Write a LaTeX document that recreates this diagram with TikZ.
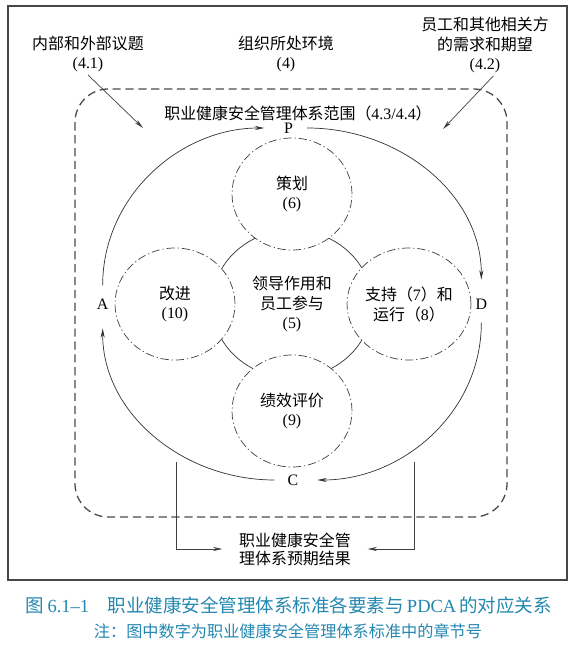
\documentclass[tikz,border=0pt]{standalone}
\usepackage{fontspec}
\setmainfont{Liberation Serif}
\newfontfamily\cjk{Noto Sans CJK SC}
\usepackage{tikz}
\usetikzlibrary{arrows.meta, shapes.geometric}
\definecolor{framegray}{RGB}{70,70,70}
\definecolor{scopegray}{RGB}{75,75,75}
\definecolor{capblue}{RGB}{35,135,175}

\begin{document}
\begin{tikzpicture}[font=\fontsize{13.6}{17}\selectfont,
  txt/.style={align=center, inner sep=2pt},
  clause/.style={ellipse, draw=black!75, line width=0.6pt, dash pattern=on 7pt off 2.5pt on 1pt off 2.5pt, fill=white, minimum width=3.6cm, minimum height=3.36cm, inner sep=0pt, align=center},
  phase/.style={circle, minimum size=1.1cm, inner sep=0pt},
  cyc/.style={-{Stealth[length=8pt,width=3.5pt]}, black!80, line width=0.6pt, shorten >=5pt},
  feed/.style={-{Stealth[length=8pt,width=3.5pt]}, black!75, line width=0.6pt}]
  \useasboundingbox (-8.76,9.12) rectangle (8.55,-10.26);
  \draw[framegray, line width=0.9pt] (-8.52,8.94) rectangle (8.25,-8.28);
  \draw[scopegray, line width=1.1pt, dash pattern=on 7pt off 4pt, rounded corners=1cm] (-6.51,6.45) rectangle (6.45,-6.39);
  % context of the organization
  \node[txt] (issues) at (-6.12,7.5) {{\cjk 内部和外部议题}\\(4.1)};
  \node[txt] (context) at (-0.18,7.5) {{\cjk 组织所处环境}\\(4)};
  \node[txt] (needs) at (5.79,7.77) {{\cjk 员工和其他相关方}\\{\cjk 的需求和期望}\\(4.2)};
  \node[txt] (scope) at (0.18,5.73) {{\cjk 职业健康安全管理体系范围（}4.3/4.4{\cjk ）}};
  \coordinate (issuesin) at (-4.47,5.28);
  \coordinate (needsin) at (4.53,5.25);
  \draw[feed] (issues.south) -- (issuesin);
  \draw[feed] ([xshift=0.25cm]needs.south) -- (needsin);
  % leadership first, the clauses are filled white over it
  \node[ellipse, draw=black!80, line width=0.6pt, minimum width=4.8cm, minimum height=4.44cm, align=center] (lead) at (0,0) {{\cjk 领导作用和}\\{\cjk 员工参与}\\(5)};
  \node[clause] (plan) at (0,3.3) {{\cjk 策划}\\(6)};
  \node[clause] (improve) at (-3.51,0) {{\cjk 改进}\\(10)};
  \node[clause] (support) at (3.51,0) {{\cjk 支持（}7{\cjk ）和}\\{\cjk 运行（}8{\cjk ）}};
  \node[clause] (perf) at (0,-3.21) {{\cjk 绩效评价}\\(9)};
  % PDCA
  \node[phase] (P) at (-0.1,5.28) {P};
  \node[phase] (D) at (5.68,0) {D};
  \node[phase] (C) at (0.03,-5.28) {C};
  \node[phase] (A) at (-5.68,0) {A};
  \draw[cyc] (A) to[out=90,in=180] (P);
  \draw[cyc] (P) to[out=0,in=90] (D);
  \draw[cyc] (D) to[out=-90,in=0] (C);
  \draw[cyc] (C) to[out=180,in=-90] (A);
  % intended outcomes
  \coordinate (outl) at (-3.48,-4.74);
  \coordinate (outr) at (3.66,-4.74);
  \node[txt, inner xsep=0.5cm, font=\fontsize{13.6}{15.5}\selectfont] (result) at (0.09,-7.35) {{\cjk 职业健康安全管}\\{\cjk 理体系预期结果}};
  \draw[feed] (outl) |- (result);
  \draw[feed] (outr) |- (result);
  % caption
  \node[text=capblue, font=\fontsize{15.8}{18}\selectfont] (fig) at (-0.09,-9.03) {{\cjk 图}\,6.1--1\quad{\cjk 职业健康安全管理体系标准各要素与}\,PDCA\,{\cjk 的对应关系}};
  \node[text=capblue, font=\fontsize{13.8}{16}\selectfont] (note) at (-0.12,-9.81) {{\cjk 注：图中数字为职业健康安全管理体系标准中的章节号}};
\end{tikzpicture}
\end{document}
